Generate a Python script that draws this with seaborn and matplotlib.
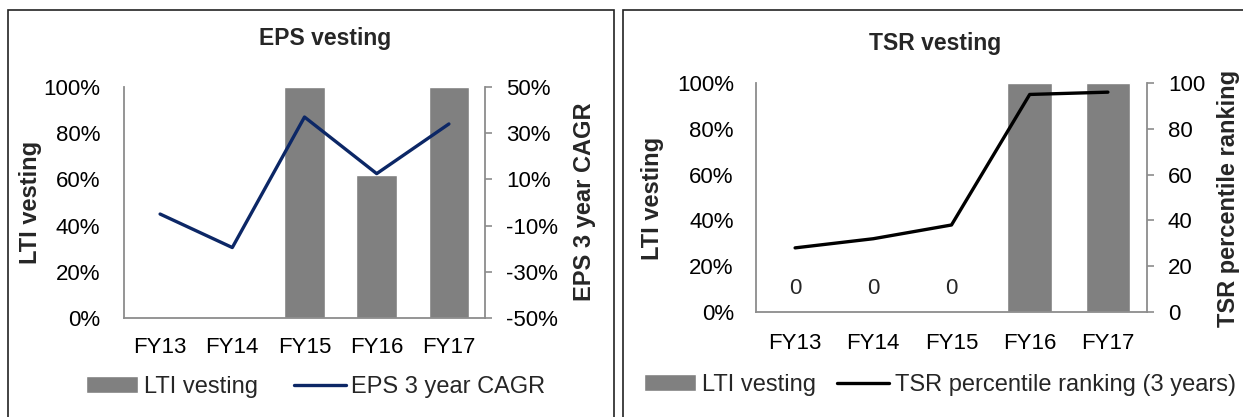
import numpy as np
import matplotlib
matplotlib.use("Agg")
import matplotlib.pyplot as plt
from matplotlib.patches import Rectangle
from matplotlib.ticker import PercentFormatter, FixedLocator
import seaborn as sns

years = ["FY13", "FY14", "FY15", "FY16", "FY17"]

# EPS panel
eps_lti = [0, 0, 100, 62, 100]          # LTI vesting (%)
eps_cagr = [-5, -19.5, 37, 12.5, 34]    # EPS 3 year CAGR (%)

# TSR panel
tsr_lti = [0, 0, 0, 100, 100]           # LTI vesting (%)
tsr_rank = [28, 32, 38, 95, 96]         # TSR percentile ranking
tsr_bar_labels = ["0", "0", "0", "", ""]

W, H = 1243, 417
BAR = "#808080"
AXC = "#8c8c8c"

sns.set_style("white")
plt.rcParams["font.family"] = ["Liberation Sans", "DejaVu Sans"]
plt.rcParams["axes.unicode_minus"] = False

fig = plt.figure(figsize=(W / 100, H / 100), dpi=100)


def box(l, t, r, b):
    return [l / W, 1 - b / H, (r - l) / W, (b - t) / H]


def style_axes(ax, ax2, lpad, rpad, xpad):
    for s in ["top", "right"]:
        ax.spines[s].set_visible(False)
    for s in ["left", "bottom"]:
        ax.spines[s].set_color(AXC)
        ax.spines[s].set_linewidth(1.3)
    for s in ["top", "left", "bottom"]:
        ax2.spines[s].set_visible(False)
    ax2.spines["right"].set_color(AXC)
    ax2.spines["right"].set_linewidth(1.3)
    ax.tick_params(axis="y", length=0, pad=lpad, labelsize=16, colors="black")
    ax.tick_params(axis="x", length=0, pad=xpad, labelsize=16, colors="black")
    ax2.tick_params(axis="y", length=5, width=1.2, color=AXC, direction="out",
                    pad=rpad, labelsize=16, labelcolor="black")
    ax.set_xlabel("")
    ax.set_ylabel("")
    ax2.set_ylabel("")
    ax.set_xlim(-0.5, len(years) - 0.5)


# frames around each panel
fig.add_artist(Rectangle((8 / W, -0.1), (614 - 8) / W, 1.1 - 10 / H,
                         transform=fig.transFigure, fill=False,
                         edgecolor="#222222", linewidth=1.2))
fig.add_artist(Rectangle((623 / W, -0.1), 0.5, 1.1 - 10 / H,
                         transform=fig.transFigure, fill=False,
                         edgecolor="#222222", linewidth=1.2))

# ---- EPS vesting ----
ax = fig.add_axes(box(124, 87, 485, 318))
sns.barplot(x=years, y=eps_lti, color=BAR, saturation=1, width=0.56,
            ax=ax, label="LTI vesting")
ax.set_ylim(0, 100)
ax.yaxis.set_major_locator(FixedLocator(range(0, 101, 20)))
ax.yaxis.set_major_formatter(PercentFormatter(100, decimals=0))
ax2 = ax.twinx()
sns.lineplot(x=np.arange(len(years)), y=eps_cagr, color="#0c2766",
             linewidth=2.4, ax=ax2, label="EPS 3 year CAGR")
ax2.set_ylim(-50, 50)
ax2.yaxis.set_major_locator(FixedLocator(range(-50, 51, 20)))
ax2.yaxis.set_major_formatter(PercentFormatter(100, decimals=0))
style_axes(ax, ax2, 17, 10, 14)
ax2.get_legend().remove()
h1, l1 = ax.get_legend_handles_labels()
h2, l2 = ax2.get_legend_handles_labels()
ax.legend(h1 + h2, l1 + l2, loc="center", ncol=2, frameon=False,
          bbox_to_anchor=(316 / W, 1 - 387 / H), bbox_transform=fig.transFigure,
          fontsize=17, handlelength=2.2, handletextpad=0.25, columnspacing=1.5)

fig.text(325 / W, 1 - 45 / H, "EPS vesting", ha="center", va="baseline",
         fontsize=16.5, fontweight="bold")
fig.text(30 / W, 1 - 202 / H, "LTI vesting", ha="center", va="center",
         rotation=90, fontsize=17, fontweight="bold")
fig.text(584 / W, 1 - 202 / H, "EPS 3 year CAGR", ha="center", va="center",
         rotation=90, fontsize=17, fontweight="bold")

# ---- TSR vesting ----
bx = fig.add_axes(box(756, 83, 1147, 312))
sns.barplot(x=years, y=tsr_lti, color=BAR, saturation=1, width=0.57,
            ax=bx, label="LTI vesting")
bx.set_ylim(0, 100)
bx.yaxis.set_major_locator(FixedLocator(range(0, 101, 20)))
bx.yaxis.set_major_formatter(PercentFormatter(100, decimals=0))
bx.bar_label(bx.containers[0], labels=tsr_bar_labels, padding=9, fontsize=16)
bx2 = bx.twinx()
sns.lineplot(x=np.arange(len(years)), y=tsr_rank, color="black",
             linewidth=2.4, ax=bx2, label="TSR percentile ranking (3 years)")
bx2.set_ylim(0, 100)
bx2.yaxis.set_major_locator(FixedLocator(range(0, 101, 20)))
style_axes(bx, bx2, 16, 10, 15)
bx2.get_legend().remove()
h1, l1 = bx.get_legend_handles_labels()
h2, l2 = bx2.get_legend_handles_labels()
bx.legend(h1 + h2, l1 + l2, loc="center", ncol=2, frameon=False,
          bbox_to_anchor=(940 / W, 1 - 385 / H), bbox_transform=fig.transFigure,
          fontsize=17, handlelength=2.2, handletextpad=0.25, columnspacing=0.9)

fig.text(935 / W, 1 - 50 / H, "TSR vesting", ha="center", va="baseline",
         fontsize=16.5, fontweight="bold")
fig.text(652 / W, 1 - 198 / H, "LTI vesting", ha="center", va="center",
         rotation=90, fontsize=17, fontweight="bold")
fig.text(1229 / W, 1 - 198 / H, "TSR percentile ranking", ha="center",
         va="center", rotation=90, fontsize=17, fontweight="bold")

fig.savefig("out.png", dpi=100)
